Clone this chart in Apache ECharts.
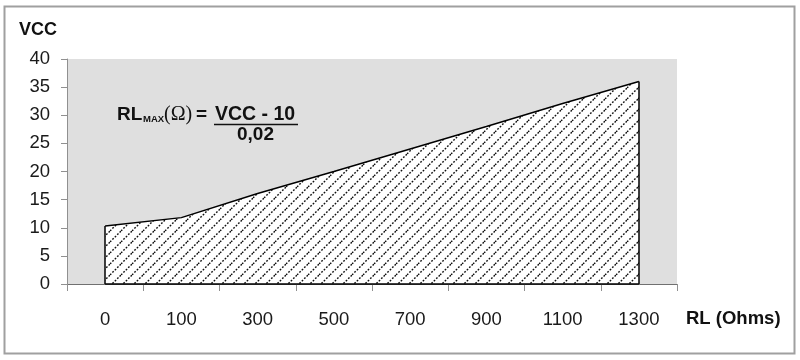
<!DOCTYPE html>
<html>
<head>
<meta charset="utf-8">
<script src="https://cdn.jsdelivr.net/npm/echarts@6/dist/echarts.min.js"></script>
<style>html,body{margin:0;padding:0;background:#fff}#c{width:800px;height:360px}</style>
</head>
<body>
<div id="c"></div>
<script>
var categories = ['0', '100', '300', '500', '700', '900', '1100', '1300'];
var vccValues = [10.3, 11.8, 16.1, 20, 24, 28, 32.1, 36];
var yMin = 0, yMax = 40, yStep = 5;

function hatch() {
  var s = 11, c = document.createElement('canvas');
  c.width = s; c.height = s;
  var g = c.getContext('2d');
  g.fillStyle = '#ffffff'; g.fillRect(0, 0, s, s);
  g.strokeStyle = '#111111'; g.lineWidth = 1.4;
  g.setLineDash([1.8, 1.6]);
  [[-s, s, s, -s], [0, s, s, 0], [0, 2 * s, 2 * s, 0]].forEach(function (p) {
    g.beginPath(); g.moveTo(p[0], p[1]); g.lineTo(p[2], p[3]); g.stroke();
  });
  return c;
}

var FONT = 'Liberation Sans';
var last = categories.length - 1;
var chart = echarts.init(document.getElementById('c'), null, {renderer: 'canvas'});
chart.setOption({
  animation: false,
  backgroundColor: '#ffffff',
  grid: {left: 67, right: 123, top: 59, bottom: 76, show: true, backgroundColor: '#dfdfdf', borderWidth: 0},
  xAxis: {
    type: 'category', data: categories, boundaryGap: true,
    axisLine: {lineStyle: {color: '#707070', width: 1}},
    axisTick: {show: true, length: 7, interval: 0, lineStyle: {color: '#909090'}},
    axisLabel: {interval: 0, fontFamily: FONT, fontSize: 18.5, color: '#1a1a1a', margin: 26},
    splitLine: {show: false}
  },
  yAxis: {
    type: 'value', min: yMin, max: yMax, interval: yStep,
    axisLine: {show: true, lineStyle: {color: '#909090', width: 1}},
    axisTick: {show: true, length: 6, lineStyle: {color: '#909090'}},
    axisLabel: {fontFamily: FONT, fontSize: 18.5, color: '#1a1a1a', margin: 17},
    splitLine: {show: false}
  },
  series: [{
    type: 'line', data: vccValues, symbol: 'none', z: 3,
    lineStyle: {color: '#000', width: 1.5},
    areaStyle: {color: {image: hatch(), repeat: 'repeat'}, opacity: 1},
    markLine: {
      silent: true, symbol: ['none', 'none'], label: {show: false},
      lineStyle: {color: '#000', width: 1.5, type: 'solid'},
      data: [
        [{coord: [categories[0], yMin]}, {coord: [categories[0], vccValues[0]]}],
        [{coord: [categories[last], yMin]}, {coord: [categories[last], vccValues[last]]}],
        [{coord: [categories[0], yMin]}, {coord: [categories[last], yMin]}]
      ]
    }
  }],
  graphic: [
    {type: 'rect', silent: true, shape: {x: 4.5, y: 6.5, width: 790, height: 347}, style: {fill: 'none', stroke: '#a0a0a0', lineWidth: 2}},
    {type: 'text', style: {x: 19, y: 30, verticalAlign: 'middle', text: 'VCC', font: 'bold 18px ' + FONT, fill: '#111'}},
    {type: 'text', style: {x: 686, y: 319, verticalAlign: 'middle', text: 'RL (Ohms)', font: 'bold 18.5px ' + FONT, fill: '#111'}},
    {type: 'text', style: {x: 117, y: 115, verticalAlign: 'middle', text: 'RL', font: 'bold 19px ' + FONT, fill: '#111'}},
    {type: 'text', style: {x: 143, y: 119.5, verticalAlign: 'middle', text: 'MAX', font: 'bold 9.5px ' + FONT, fill: '#111'}},
    {type: 'text', style: {x: 164, y: 115, verticalAlign: 'middle', text: '(Ω)', font: '20px Liberation Serif', fill: '#111'}},
    {type: 'text', style: {x: 196, y: 115, verticalAlign: 'middle', text: '=', font: 'bold 19px ' + FONT, fill: '#111'}},
    {type: 'text', style: {x: 215, y: 115, verticalAlign: 'middle', text: 'VCC - 10', font: 'bold 19.5px ' + FONT, fill: '#111'}},
    {type: 'line', shape: {x1: 214, y1: 124.5, x2: 298, y2: 124.5}, style: {stroke: '#111', lineWidth: 1.5}},
    {type: 'text', style: {x: 237, y: 135, verticalAlign: 'middle', text: '0,02', font: 'bold 19px ' + FONT, fill: '#111'}}
  ]
});
</script>
</body>
</html>
